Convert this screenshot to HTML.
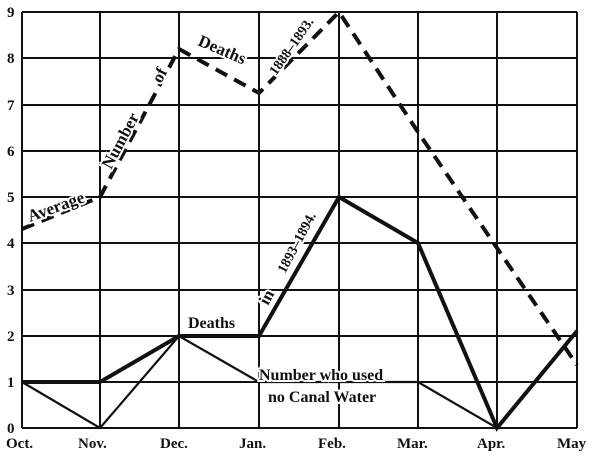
<!DOCTYPE html>
<html><head><style>body{margin:0;background:#fff}svg{display:block}text{font-family:"Liberation Serif",serif;fill:#111}.h{stroke:#fff;stroke-width:4;paint-order:stroke}</style></head><body>
<svg width="600" height="460" viewBox="0 0 600 460" xmlns="http://www.w3.org/2000/svg">
<g stroke="#111" stroke-width="2">
<line x1="22" y1="12" x2="577" y2="12"/><line x1="22" y1="58" x2="577" y2="58"/><line x1="22" y1="105" x2="577" y2="105"/><line x1="22" y1="151" x2="577" y2="151"/><line x1="22" y1="197" x2="577" y2="197"/><line x1="22" y1="243" x2="577" y2="243"/><line x1="22" y1="290" x2="577" y2="290"/><line x1="22" y1="336" x2="577" y2="336"/><line x1="22" y1="382" x2="577" y2="382"/><line x1="22" y1="428" x2="577" y2="428"/>
<line x1="22" y1="12" x2="22" y2="428"/><line x1="100" y1="12" x2="100" y2="428"/><line x1="179" y1="12" x2="179" y2="428"/><line x1="259" y1="12" x2="259" y2="428"/><line x1="339" y1="12" x2="339" y2="428"/><line x1="418" y1="12" x2="418" y2="428"/><line x1="497" y1="12" x2="497" y2="428"/><line x1="577" y1="12" x2="577" y2="428"/>
</g>
<polyline fill="none" stroke="#111" stroke-width="4" stroke-dasharray="13,8" points="22,229 100,197 179,49 259,93 339,12 418,132 497,248 577,365"/>
<polyline fill="none" stroke="#111" stroke-width="4" points="22,382 100,382 179,336 259,336 339,197 418,243 497,428 577,331"/>
<polyline fill="none" stroke="#111" stroke-width="2.2" points="22,382 100,428 179,336 259,382 339,382 418,382 497,428 577,331"/>
<g font-weight="bold" font-size="15">
<text x="7" y="17">9</text><text x="7" y="63">8</text><text x="7" y="110">7</text><text x="7" y="156">6</text><text x="7" y="202">5</text><text x="7" y="248">4</text><text x="7" y="295">3</text><text x="7" y="341">2</text><text x="7" y="387">1</text><text x="7" y="433">0</text>
<text x="6" y="448">Oct.</text><text x="78" y="448">Nov.</text><text x="160" y="448">Dec.</text><text x="239" y="448">Jan.</text><text x="318" y="448">Feb.</text><text x="397" y="448">Mar.</text><text x="477" y="448">Apr.</text><text x="557" y="448">May</text>
</g>
<g font-size="17" font-weight="bold" class="h">
<text transform="translate(30,222) rotate(-20)">Average</text>
<text transform="translate(111,170) rotate(-62)">Number</text>
<text transform="translate(161,84) rotate(-62)">of</text>
<text transform="translate(197,45) rotate(23)">Deaths</text>
<text font-size="14" transform="translate(276,76) rotate(-55)">1888–1893.</text>
<text x="188" y="328" font-size="16">Deaths</text>
<text transform="translate(268,306) rotate(-62)">in</text>
<text font-size="14" transform="translate(285,274) rotate(-62)">1893–1894.</text>
<text x="259" y="380" font-size="16">Number who used</text>
<text x="268" y="402" font-size="16">no Canal Water</text>
</g>
</svg>
</body></html>
